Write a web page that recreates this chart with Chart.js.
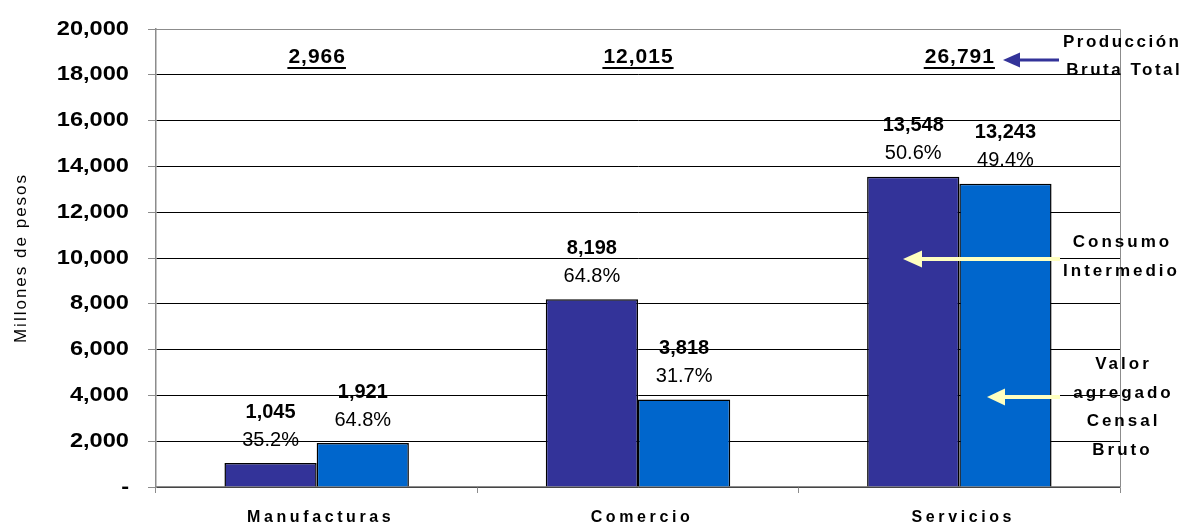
<!DOCTYPE html>
<html>
<head>
<meta charset="utf-8">
<script src="https://cdn.jsdelivr.net/npm/chart.js@4.4.0/dist/chart.umd.min.js"></script>
<style>
  html, body { margin: 0; padding: 0; background: #fff; }
  #wrap { width: 1183px; height: 526px; position: relative; }
</style>
</head>
<body>
<div id="wrap"><canvas id="grafico" width="1183" height="526"></canvas></div>
<script>
// datos del grafico
var categorias = ['Manufacturas', 'Comercio', 'Servicios']
var consumo_intermedio = [1045, 8198, 13548]
var valor_agregado = [1921, 3818, 13243]
var pct_consumo = ['35.2%', '64.8%', '50.6%']
var pct_valor = ['64.8%', '31.7%', '49.4%']
var produccion_total = ['2,966', '12,015', '26,791']
var ticks_y = [0, 2000, 4000, 6000, 8000, 10000, 12000, 14000, 16000, 18000, 20000]

var FONTE = '"Liberation Sans", Arial, sans-serif'

function formatar(v) {
    if (v == 0) return '-'
    return v.toLocaleString('en-US')
}

function seta(ctx, x1, x2, y, cor, grossura, cabeca_l, cabeca_h) {
    ctx.save()
    ctx.strokeStyle = cor
    ctx.fillStyle = cor
    ctx.lineWidth = grossura
    ctx.beginPath()
    ctx.moveTo(x1, y)
    ctx.lineTo(x2 + cabeca_l - 1, y)
    ctx.stroke()
    ctx.beginPath()
    ctx.moveTo(x2, y)
    ctx.lineTo(x2 + cabeca_l, y - cabeca_h / 2)
    ctx.lineTo(x2 + cabeca_l, y + cabeca_h / 2)
    ctx.closePath()
    ctx.fill()
    ctx.restore()
}

// texto centrado com espacamento entre letras
function texto(ctx, t, x, y, espaco) {
    ctx.letterSpacing = espaco + 'px'
    ctx.fillText(t, x + espaco / 2, y)
}

// envolve um metodo de desenho da escala (o chart.js nao tem opcao para isso)
function envolver(escala, metodo, antes) {
    if (escala['_env_' + metodo]) return
    let original = escala[metodo].bind(escala)
    escala[metodo] = function (a) {
        let ctx = escala.ctx
        ctx.save()
        antes(ctx, escala)
        original(a)
        ctx.restore()
    }
    escala['_env_' + metodo] = true
}

var anotacoes = {
    id: 'anotacoes',
    afterUpdate: function (chart) {
        // rotulos do eixo y mais largos, ancorados na borda direita
        envolver(chart.scales.y, 'drawLabels', function (ctx, s) {
            let borda = s.right - 8 - 19
            ctx.translate(borda, 0)
            ctx.scale(1.18, 1)
            ctx.translate(-borda, 0)
        })
        envolver(chart.scales.y, 'drawTitle', function (ctx) { ctx.letterSpacing = '2px' })
        envolver(chart.scales.x, 'drawLabels', function (ctx) {
            ctx.letterSpacing = '3.6px'
            ctx.translate(4, 0)
        })
    },
    afterDatasetsDraw: function (chart) {
        let ctx = chart.ctx
        let area = chart.chartArea
        let ys = chart.scales.y
        let xs = chart.scales.x

        // borda cinza do quadro
        ctx.save()
        ctx.strokeStyle = '#8c8c8c'
        ctx.lineWidth = 1
        ctx.beginPath()
        ctx.moveTo(area.left, area.top + 0.5)
        ctx.lineTo(area.right + 0.5, area.top + 0.5)
        ctx.lineTo(area.right + 0.5, area.bottom)
        ctx.stroke()
        ctx.restore()

        // rotulos das barras
        ctx.save()
        ctx.textAlign = 'center'
        ctx.textBaseline = 'middle'
        ctx.fillStyle = '#000'
        let series = [[consumo_intermedio, pct_consumo], [valor_agregado, pct_valor]]
        for (let d = 0; d < 2; d++) {
            let meta = chart.getDatasetMeta(d)
            for (let i = 0; i < meta.data.length; i++) {
                let barra = meta.data[i]
                ctx.font = 'bold 20px ' + FONTE
                ctx.fillText(formatar(series[d][0][i]), barra.x, barra.y - 51)
                ctx.font = '20px ' + FONTE
                ctx.fillText(series[d][1][i], barra.x, barra.y - 23)
            }
        }

        // produccion bruta total
        ctx.font = 'bold 21px ' + FONTE
        for (let i = 0; i < categorias.length; i++) {
            let x = xs.getPixelForValue(i)
            let y = area.top + 28
            texto(ctx, produccion_total[i], x, y, 1)
            let w = ctx.measureText(produccion_total[i]).width - 1
            ctx.fillRect(x - w / 2 - 1, y + 10, w + 2, 2)
        }
        ctx.restore()

        // textos a la derecha
        ctx.save()
        ctx.textAlign = 'center'
        ctx.textBaseline = 'middle'
        ctx.fillStyle = '#000'
        ctx.font = 'bold 17px ' + FONTE
        texto(ctx, 'Producción', 1121, 42, 2.5)
        texto(ctx, 'Bruta Total', 1123, 70, 2.5)
        texto(ctx, 'Consumo', 1121, 242, 3)
        texto(ctx, 'Intermedio', 1120, 271, 3)
        texto(ctx, 'Valor', 1122, 364, 3)
        texto(ctx, 'agregado', 1122, 393, 3)
        texto(ctx, 'Censal', 1122, 421, 3)
        texto(ctx, 'Bruto', 1121, 450, 3)
        ctx.letterSpacing = '0px'
        ctx.restore()

        // flechas
        seta(ctx, 1059, 1003, ys.getPixelForValue(18650), '#333399', 3, 17, 15)
        seta(ctx, 1060, 903, ys.getPixelForValue(9960), '#FFFFC0', 4, 19, 17)
        seta(ctx, 1060, 987, ys.getPixelForValue(3930), '#FFFFC0', 4, 18, 17)
    }
}

let contexto = document.getElementById('grafico').getContext('2d')
var meu_grafico = new Chart(contexto, {
    type: 'bar',
    data: {
        labels: categorias,
        datasets: [{
            label: 'Consumo Intermedio',
            data: consumo_intermedio,
            backgroundColor: '#333399',
            borderColor: '#000',
            borderWidth: 1.5,
            categoryPercentage: 0.574,
            barPercentage: 1
        }, {
            label: 'Valor agregado Censal Bruto',
            data: valor_agregado,
            backgroundColor: '#0066CC',
            borderColor: '#000',
            borderWidth: 1.5,
            categoryPercentage: 0.574,
            barPercentage: 1
        }]
    },
    options: {
        responsive: false,
        animation: false,
        maintainAspectRatio: false,
        layout: { padding: { top: 29, right: 63, left: 0, bottom: 0 } },
        plugins: {
            legend: { display: false },
            tooltip: { enabled: false }
        },
        scales: {
            y: {
                min: 0,
                max: 20000,
                afterFit: function (s) { s.width = 156; s.paddingTop = 0 },
                afterBuildTicks: function (s) { s.ticks = ticks_y.map(function (v) { return { value: v } }) },
                ticks: {
                    color: '#000',
                    padding: 19,
                    font: { family: FONTE, size: 20, weight: 'bold' },
                    callback: function (v) { return formatar(v) }
                },
                grid: {
                    color: function (c) { return c.tick && c.tick.value == 20000 ? '#8c8c8c' : '#000' },
                    tickColor: '#8c8c8c',
                    tickLength: 8,
                    lineWidth: 1
                },
                border: { color: '#8c8c8c', width: 1.5 },
                title: {
                    display: true,
                    text: 'Millones de pesos',
                    color: '#000',
                    font: { family: FONTE, size: 17 },
                    padding: { top: 11, bottom: 0 }
                }
            },
            x: {
                afterFit: function (s) { s.height = 39 },
                ticks: {
                    color: '#000',
                    padding: 15,
                    maxRotation: 0,
                    font: { family: FONTE, size: 16, weight: 'bold' }
                },
                grid: {
                    offset: true,
                    drawOnChartArea: false,
                    tickColor: '#8c8c8c',
                    tickLength: 6
                },
                border: { color: '#8c8c8c', width: 1.5 }
            }
        }
    },
    plugins: [anotacoes]
})
</script>
</body>
</html>
